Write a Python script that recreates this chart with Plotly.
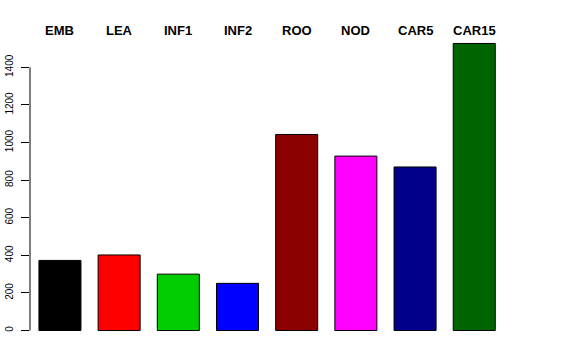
import plotly.graph_objects as go

categories = ["EMB", "LEA", "INF1", "INF2", "ROO", "NOD", "CAR5", "CAR15"]
values = [373, 402, 300, 251, 1043, 928, 870, 1527]
colors = ["#000000", "#FF0000", "#00CD00", "#0000FF", "#8B0000", "#FF00FF", "#00008B", "#006400"]
yticks = [0, 200, 400, 600, 800, 1000, 1200, 1400]

xs = list(range(len(categories)))

fig = go.Figure()
fig.add_trace(go.Bar(
    x=xs, y=values,
    marker=dict(color=colors, line=dict(color="#000000", width=1)),
    width=0.71,
    showlegend=False,
    hoverinfo="skip",
))

for i, c in enumerate(categories):
    fig.add_annotation(
        x=i, y=1.0064, xref="x", yref="paper",
        text="<b>" + c + "</b>", showarrow=False,
        xanchor="center", yanchor="middle",
        font=dict(family="Liberation Sans, Arial, sans-serif", size=13, color="#000000"),
    )

fig.add_shape(type="line", xref="paper", yref="y", x0=0, x1=0, y0=0, y1=1400,
              line=dict(color="#000000", width=1))

fig.update_layout(
    width=576, height=360,
    margin=dict(l=29.5, r=55, t=31.5, b=17.5, autoexpand=False),
    paper_bgcolor="white", plot_bgcolor="white",
    xaxis=dict(range=[-0.506, 7.79], showticklabels=False, ticks="", showgrid=False,
               zeroline=False, showline=False, fixedrange=True, automargin=False),
    yaxis=dict(range=[-61, 1588], tickvals=yticks, ticktext=[str(v) for v in yticks],
               tickangle=-90, ticks="outside", ticklen=8, tickcolor="#000000",
               ticklabelstandoff=4,
               showgrid=False, zeroline=False, showline=False, automargin=False,
               tickfont=dict(family="Liberation Sans, Arial, sans-serif", size=10, color="#000000")),
    font=dict(family="Liberation Sans, Arial, sans-serif"),
)

fig.write_html("out.html", config={"displayModeBar": False},
               post_script="document.body.style.margin='0';")
